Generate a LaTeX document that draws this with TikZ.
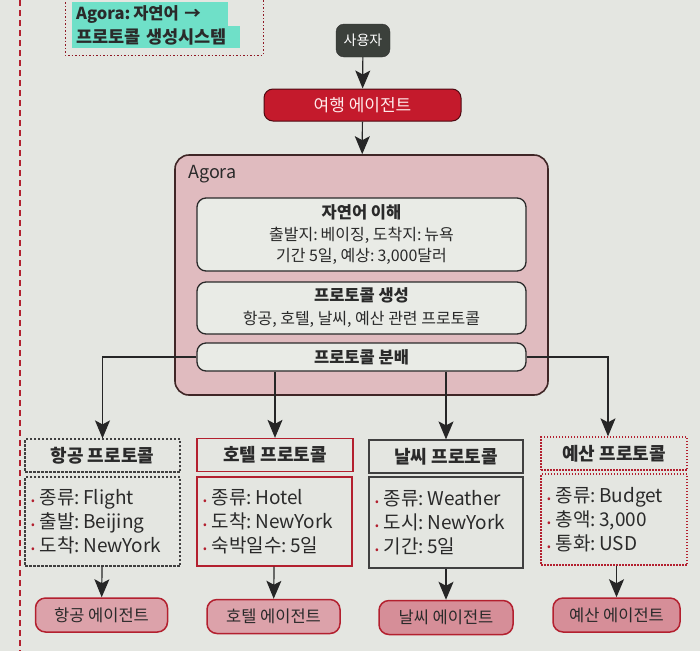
\documentclass[tikz,border=0pt]{standalone}
\usepackage{fontspec}
\setmainfont{Noto Sans CJK KR}
\usetikzlibrary{arrows.meta}
\definecolor{bg}{HTML}{E4E6E1}
\definecolor{ink}{HTML}{2A2A2A}
\definecolor{bred}{HTML}{B3202F}
\definecolor{hl}{HTML}{6FE0C8}
\definecolor{agorafill}{HTML}{E0BBBF}
\definecolor{innerfill}{HTML}{E9EBE6}
\definecolor{travelred}{HTML}{C41A2C}
\definecolor{userfill}{HTML}{3B403B}
\definecolor{agentfill}{HTML}{DCA2AA}
\newcommand{\bul}{{\fontsize{11}{11}\selectfont\textcolor{bred}{•}}\hspace{5pt}}
\newcommand{\cs}{:\hspace{0.18em}}
\begin{document}
\begin{tikzpicture}[x=1pt,y=-1pt,
  every node/.style={text=ink},
  arr/.style={draw=black!85, line width=1.2pt, -{Stealth[length=18pt,width=15pt,inset=4pt]}},
  inbox/.style={draw=ink, line width=1.3pt, fill=innerfill, rounded corners=9pt, minimum width=329pt, align=center, inner sep=0pt},
  headbox/.style={minimum height=33pt, inner sep=0pt, font=\fontsize{18}{20}\selectfont\bfseries},
  bodybox/.style={minimum height=90pt, inner sep=6pt, align=left, font=\fontsize{19}{24}\selectfont},
  agentbox/.style={draw=bred, line width=1.5pt, fill=agentfill, rounded corners=10pt, minimum height=34pt, inner sep=0pt, font=\fontsize{16.5}{18}\selectfont},
  grayline/.style={draw=black!75, line width=1.2pt},
  redline/.style={draw=bred, line width=1.3pt}
]
\useasboundingbox (0,0) rectangle (700,651);
\fill[bg] (0,0) rectangle (700,651);

% left margin dashed line
\draw[bred, line width=2pt, dash pattern=on 6pt off 4pt] (20,0) -- (20,651);

% top-left note
\draw[bred!80!black, line width=1pt, dash pattern=on 1.5pt off 2pt] (65,-5) rectangle (263,55);
\node[fill=hl, anchor=west, inner xsep=4pt, inner ysep=3pt, text width=148pt, align=left, font=\fontsize{16.5}{20}\selectfont\bfseries] (tl1) at (72,14) {Agora\cs 자연어 →};
\node[fill=hl, anchor=west, inner xsep=4pt, inner ysep=3pt, text width=160pt, align=left, font=\fontsize{17.5}{20}\selectfont\bfseries] (tl2) at (72,37) {프로토콜 생성시스템};

% top flow
\node[fill=userfill, draw=black!80, rounded corners=8pt, minimum width=54pt, minimum height=33pt, inner sep=0pt, text=white, font=\fontsize{14}{16}\selectfont] (user) at (363,40.5) {사용자};
\node[fill=travelred, draw=black!60!travelred, line width=1pt, rounded corners=9pt, minimum width=197pt, minimum height=32pt, inner sep=0pt, text=white!92!red, font=\fontsize{17}{18}\selectfont] (travel) at (362.5,105) {여행 에이전트};

% Agora container
\node[draw=ink!90!red, line width=1.6pt, fill=agorafill, rounded corners=14pt, minimum width=373pt, minimum height=240pt] (agora) at (361.5,275) {};
\node[anchor=west, inner sep=0pt, font=\fontsize{18}{20}\selectfont] (agoratitle) at (188,174) {Agora};

\node[inbox, minimum height=73pt, font=\fontsize{16}{21}\selectfont] (nlu) at (361.5,234.5)
  {{\fontsize{16.5}{21}\selectfont\bfseries 자연어 이해}\\[1pt] 출발지\cs 베이징, 도착지\cs 뉴욕\\ 기간 5일, 예상\cs 3,000달러};
\node[inbox, minimum height=52pt, font=\fontsize{16}{21}\selectfont] (gen) at (361.5,308)
  {{\fontsize{16.5}{21}\selectfont\bfseries 프로토콜 생성}\\[2pt] 항공, 호텔, 날씨, 예산 관련 프로토콜};
\node[inbox, minimum height=28pt, font=\fontsize{16.5}{20}\selectfont\bfseries] (dist) at (361.5,357) {프로토콜 분배};

% protocol headers
\node[headbox, grayline, dash pattern=on 2.5pt off 1.5pt, minimum width=155pt] (p1h) at (102.5,455.5) {항공 프로토콜};
\node[headbox, redline, minimum width=156pt] (p2h) at (275,455) {호텔 프로토콜};
\node[headbox, grayline, minimum width=154pt] (p3h) at (446,456.5) {날씨 프로토콜};
\node[headbox, redline, dash pattern=on 1.5pt off 1.5pt, minimum width=146pt] (p4h) at (614,453.5) {예산 프로토콜};

% protocol bodies
\node[bodybox, grayline, dash pattern=on 2.5pt off 1.5pt, text width=143pt, minimum height=89pt] (p1b) at (102.5,521.5)
  {\bul 종류\cs Flight\\ \bul 출발\cs Beijing\\ \bul 도착\cs NewYork};
\node[bodybox, redline, text width=143pt, minimum height=89pt] (p2b) at (274.5,521.5)
  {\bul 종류\cs Hotel\\ \bul 도착\cs NewYork\\ \bul 숙박일수\cs 5일};
\node[bodybox, grayline, text width=142pt, minimum height=91pt] (p3b) at (446,522.5)
  {\bul 종류\cs Weather\\ \bul 도시\cs NewYork\\ \bul 기간\cs 5일};
\node[bodybox, redline, dash pattern=on 1.5pt off 1.5pt, text width=134pt, minimum height=91pt] (p4b) at (614,519.5)
  {\bul 종류\cs Budget\\ \bul 총액\cs 3,000\\ \bul 통화\cs USD};

% agents
\node[agentbox, minimum width=132pt] (a1) at (101.5,615) {항공 에이전트};
\node[agentbox, minimum width=133pt] (a2) at (273.5,616.5) {호텔 에이전트};
\node[agentbox, minimum width=134pt, fill=agentfill!85!bred] (a3) at (446,617.5) {날씨 에이전트};
\node[agentbox, minimum width=127pt, fill=agentfill!85!bred] (a4) at (616.5,615) {예산 에이전트};

% connectors
\draw[arr] (user) -- (travel);
\draw[arr] (travel) -- (agora);
\draw[arr] (dist.west) -| (p1h.north);
\draw[arr] (dist.south -| p2h.north) -- (p2h.north);
\draw[arr] (dist.south -| p3h.north) -- (p3h.north);
\draw[arr] (dist.east) -| ([xshift=-6pt]p4h.north);
\draw[arr] (p1b) -- (a1);
\draw[arr] (p2b) -- (a2);
\draw[arr] (p3b) -- (a3);
\draw[arr] (p4b.south -| a4.north) -- (a4.north);
\end{tikzpicture}
\end{document}
